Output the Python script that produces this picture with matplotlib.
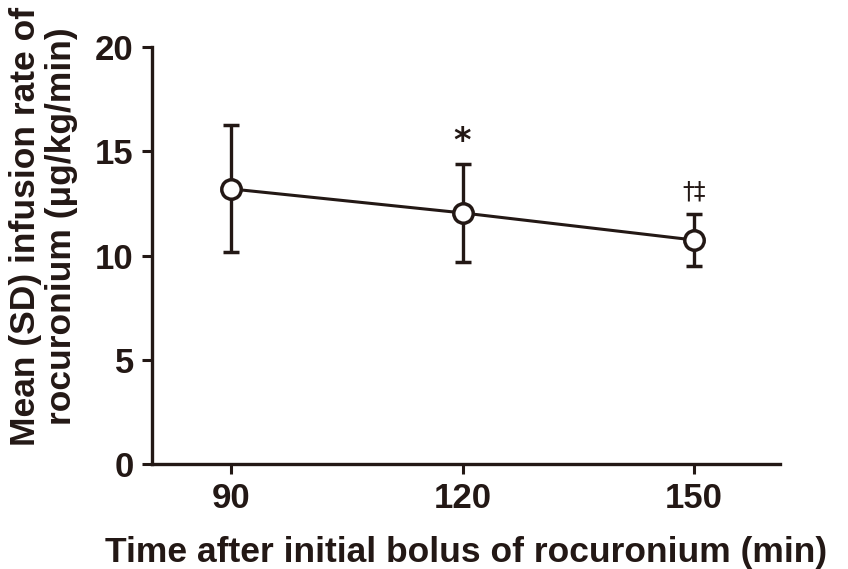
import matplotlib.pyplot as plt

plt.rcParams['font.family'] = ['Liberation Sans', 'DejaVu Sans']
plt.rcParams['font.weight'] = 'bold'

# data
times = [90, 120, 150]
mean_rate = [13.2, 12.05, 10.75]
sd_rate = [3.05, 2.37, 1.27]
marks = ['', '*', '†‡']
xticks = [90, 120, 150]
yticks = [0, 5, 10, 15, 20]

ink = '#231815'

fig = plt.figure(figsize=(8.48, 5.69), dpi=100)
ax = fig.add_axes([0.179, 0.1845, 0.741, 0.7325])

ax.errorbar(times, mean_rate, yerr=sd_rate, color=ink, lw=2.2,
            elinewidth=2.4, capsize=6, capthick=2.6,
            marker='o', markersize=14, markerfacecolor='white',
            markeredgecolor=ink, markeredgewidth=2.5, zorder=3)

for t, m, s, txt in zip(times, mean_rate, sd_rate, marks):
    if txt == '*':
        ax.annotate(txt, (t, m + s), xytext=(0, 4), textcoords='offset points',
                    ha='center', va='bottom', fontsize=24, color=ink,
                    fontweight='bold', family='DejaVu Sans')
    elif txt:
        ax.annotate(txt, (t, m + s), xytext=(0, 7), textcoords='offset points',
                    ha='center', va='bottom', fontsize=17, color=ink,
                    fontweight='normal', family='DejaVu Sans')

ax.set_xlim(79.7, 161.2)
ax.set_ylim(0, 20)
ax.set_xticks(xticks)
ax.set_yticks(yticks)
ax.tick_params(labelsize=25, width=2.2, length=7, color=ink,
               labelcolor=ink, pad=6)
for lab in ax.get_xticklabels() + ax.get_yticklabels():
    lab.set_fontweight('bold')

for side in ['top', 'right']:
    ax.spines[side].set_visible(False)
for side in ['left', 'bottom']:
    ax.spines[side].set_linewidth(2.4)
    ax.spines[side].set_color(ink)

ax.set_xlabel('Time after initial bolus of rocuronium (min)', fontsize=25.5,
              fontweight='bold', color=ink, labelpad=15)
ax.set_ylabel('Mean (SD) infusion rate of\nrocuronium (μg/kg/min)', fontsize=25.5,
              fontweight='bold', color=ink, linespacing=1.1)
ax.yaxis.set_label_coords(-0.118, 0.57)

fig.savefig('out.png', dpi=100)
